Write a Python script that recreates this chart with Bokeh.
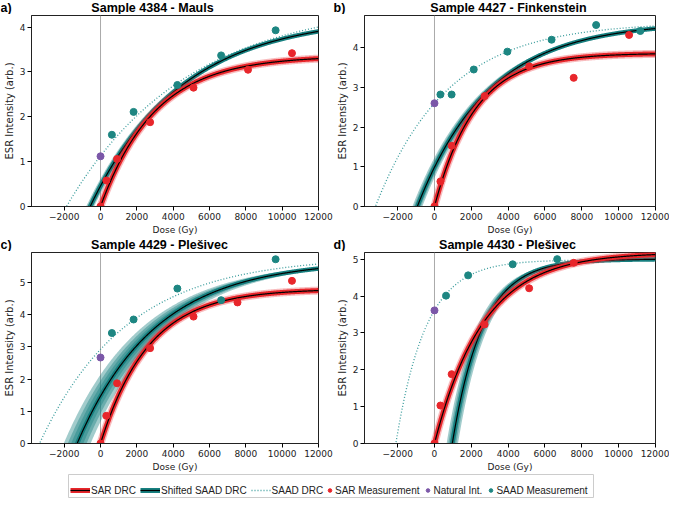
import numpy as np
from bokeh.plotting import figure
from bokeh.models import Range1d, FixedTicker, Span, Legend, LegendItem, Spacer
from bokeh.core.properties import value
from bokeh.layouts import column, row
from bokeh.embed import file_html
from bokeh.resources import INLINE

# --- data ------------------------------------------------------------------
panel_letters = ["a)", "b)", "c)", "d)"]
titles = ["Sample 4384 - Mauls", "Sample 4427 - Finkenstein",
          "Sample 4429 - Plešivec", "Sample 4430 - Plešivec"]
y_top = [4.26, 4.81, 5.93, 5.18]
y_ticks = [[0, 1, 2, 3, 4], [0, 1, 2, 3, 4], [0, 1, 2, 3, 4, 5], [0, 1, 2, 3, 4, 5]]
x_ticks = [-2000, 0, 2000, 4000, 6000, 8000, 10000, 12000]

sar_dose = [[0, 320, 910, 2730, 5120, 8120, 10540],
            [0, 322, 931, 2722, 5140, 7558, 10567],
            [0, 320, 910, 2730, 5120, 7540, 10540],
            [0, 322, 931, 2722, 5140, 7558]]
sar_int = [[0.0, 0.58, 1.06, 1.88, 2.65, 3.05, 3.42],
           [0.0, 0.63, 1.53, 2.78, 3.53, 3.24, 4.32],
           [0.0, 0.86, 1.87, 2.96, 3.94, 4.38, 5.05],
           [0.0, 1.03, 1.88, 3.23, 4.21, 4.90]]
saad_dose = [[625, 1820, 4230, 6640, 9640],
             [322, 931, 2131, 3958, 6358, 8777, 11177],
             [625, 1820, 4230, 6640, 9640],
             [627, 1827, 4245, 6663]]
saad_int = [[1.60, 2.11, 2.71, 3.37, 3.93],
            [2.82, 2.82, 3.45, 3.90, 4.20, 4.57, 4.42],
            [3.43, 3.85, 4.81, 4.45, 5.72],
            [4.01, 4.56, 4.86, 5.00]]
natural_int = [1.12, 2.60, 2.67, 3.61]

# fitted dose-response parameters (saturating exponential)
sar_imax = [3.36, 3.86, 4.80, 5.18]
sar_d0 = [3000, 2200, 2650, 2650]
shift_imax = [4.25, 4.65, 5.69, 5.00]
shift_d0 = [5000, 3900, 4300, 1650]
shift_de = [570, 931, 1286, -967]
shift_spread = [220, 270, 740, 310]
saad_imax = [4.56, 4.64, 5.81, 4.98]
saad_d0 = [6600, 3900, 4800, 1620]
saad_de = [1875, 3206, 3357, 2096]

RED = "#e8262b"
TEAL = "#178080"
TEAL_PT = "#1d8682"
DOT = "#3a9c9c"
PURPLE = "#7b57a8"
INK = "#222222"

dose_grid = np.linspace(-3800, 12000, 600)


def drc(d, imax, d0, de):
    return imax * (1 - np.exp(-(d + de) / d0))


def make_panel(i, width, left, right):
    p = figure(width=width, height=223, x_range=Range1d(-3800, 12000),
               y_range=Range1d(0, y_top[i]), toolbar_location=None,
               output_backend="svg", min_border_left=left, min_border_right=right,
               min_border_top=1, min_border_bottom=30)
    p.grid.visible = False
    p.outline_line_color = INK
    p.outline_line_alpha = 1

    p.xaxis.ticker = FixedTicker(ticks=x_ticks)
    p.xaxis.major_label_overrides = {-2000: "\u22122000"}
    p.yaxis.ticker = FixedTicker(ticks=y_ticks[i])
    p.xaxis.axis_label = "Dose (Gy)"
    p.yaxis.axis_label = "ESR Intensity (arb.)"
    for ax in (p.xaxis, p.yaxis):
        ax.major_label_text_font = "DejaVu Sans"
        ax.major_label_text_font_size = "9px"
        ax.major_label_text_color = INK
        ax.axis_label_text_font = "DejaVu Sans"
        ax.axis_label_text_font_style = "normal"
        ax.axis_label_text_color = INK
        ax.major_tick_out = 4
        ax.major_tick_in = 0
        ax.minor_tick_line_color = None
        ax.axis_line_color = INK
        ax.major_label_standoff = 2
        ax.axis_label_standoff = 2
    p.xaxis.axis_label_text_font_size = "9px"
    p.yaxis.axis_label_text_font_size = "10px"

    p.add_layout(Span(location=0, dimension="height", line_color="#aaaaaa",
                      line_width=1, level="underlay"))

    # SAAD DRC (dotted)
    p.line(dose_grid, drc(dose_grid, saad_imax[i], saad_d0[i], saad_de[i]),
           line_color=DOT, line_width=1.3, line_dash="1 2")

    # shifted SAAD DRC with uncertainty band
    for f in (1.0, 0.7, 0.45):
        lo = drc(dose_grid, shift_imax[i], shift_d0[i], shift_de[i] - f * shift_spread[i])
        hi = drc(dose_grid, shift_imax[i], shift_d0[i], shift_de[i] + f * shift_spread[i])
        p.varea(dose_grid, lo, hi, fill_color=TEAL, fill_alpha=0.4)
    shifted = drc(dose_grid, shift_imax[i], shift_d0[i], shift_de[i])
    p.line(dose_grid, shifted, line_color=TEAL, line_width=4.5)
    p.line(dose_grid, shifted, line_color="black", line_width=1.2)

    # SAR DRC
    sar_fit = drc(dose_grid, sar_imax[i], sar_d0[i], 0)
    p.line(dose_grid, sar_fit, line_color=RED, line_width=8, line_alpha=0.3)
    p.line(dose_grid, sar_fit, line_color=RED, line_width=5)
    p.line(dose_grid, sar_fit, line_color="black", line_width=1.2)

    p.scatter(sar_dose[i], sar_int[i], size=7, fill_color=RED, line_color=RED)
    p.scatter(saad_dose[i], saad_int[i], size=7, fill_color=TEAL_PT, line_color=TEAL_PT)
    p.scatter([0], [natural_int[i]], size=7, fill_color=PURPLE, line_color=PURPLE)
    return p


def make_title_strip(k0, k1, title_x, letter_x):
    # one row of panel letters and panel titles; x in page pixels
    s = figure(width=669, height=14, x_range=Range1d(0, 669), y_range=Range1d(0, 14),
               toolbar_location=None, output_backend="svg", min_border=0,
               x_axis_location=None, y_axis_location=None)
    s.grid.visible = False
    s.outline_line_color = None
    s.text(x=title_x, y=[7, 7], text=[titles[k0], titles[k1]],
           text_font=value("Liberation Sans"), text_font_size="12.5px",
           text_font_style="bold", text_align="center", text_baseline="middle",
           text_color="black")
    s.text(x=letter_x, y=[7, 7], text=[panel_letters[k0], panel_letters[k1]],
           text_font=value("Liberation Sans"), text_font_size="12.5px",
           text_font_style="bold", text_align="left", text_baseline="middle",
           text_color="black")
    return s


top_strip = make_title_strip(0, 1, [152, 508], [0, 333])
pa = make_panel(0, 333, 26, 15)
pb = make_panel(1, 336, 30, 14)
bottom_strip = make_title_strip(2, 3, [159, 507], [0, 333])
pc = make_panel(2, 333, 26, 15)
pd = make_panel(3, 336, 30, 14)

# legend strip: framed box holding a line legend and a marker legend
leg = figure(width=526, height=24, x_range=Range1d(0, 1), y_range=Range1d(0, 1),
             toolbar_location=None, output_backend="svg", min_border=0,
             x_axis_location=None, y_axis_location=None)
leg.grid.visible = False
leg.outline_line_color = "#cccccc"
nan = [np.nan]
r_sar = leg.line(nan, nan, line_color=RED, line_width=5)
r_sar_c = leg.line(nan, nan, line_color="black", line_width=1.2)
r_sh = leg.line(nan, nan, line_color=TEAL, line_width=5)
r_sh_c = leg.line(nan, nan, line_color="black", line_width=1.2)
r_dot = leg.line(nan, nan, line_color=DOT, line_width=1.3, line_dash="1 2")
r_sp = leg.scatter(nan, nan, size=8, fill_color=RED, line_color=RED)
r_np = leg.scatter(nan, nan, size=8, fill_color=PURPLE, line_color=PURPLE)
r_tp = leg.scatter(nan, nan, size=8, fill_color=TEAL_PT, line_color=TEAL_PT)

line_legend = Legend(items=[
    LegendItem(label="SAR DRC", renderers=[r_sar, r_sar_c]),
    LegendItem(label="Shifted SAAD DRC", renderers=[r_sh, r_sh_c]),
    LegendItem(label="SAAD DRC", renderers=[r_dot]),
], orientation="horizontal", location=(2, 2), glyph_width=20)
marker_legend = Legend(items=[
    LegendItem(label="SAR Measurement", renderers=[r_sp]),
    LegendItem(label="Natural Int.", renderers=[r_np]),
    LegendItem(label="SAAD Measurement", renderers=[r_tp]),
], orientation="horizontal", location=(257, 2), glyph_width=9)
for lg in (line_legend, marker_legend):
    lg.label_text_font = "Liberation Sans"
    lg.label_text_font_size = "10px"
    lg.label_text_color = INK
    lg.glyph_height = 12
    lg.label_height = 12
    lg.label_standoff = 1
    lg.spacing = 4
    lg.padding = 2
    lg.margin = 0
    lg.border_line_color = None
    lg.background_fill_alpha = 0
    leg.add_layout(lg, "center")

layout = column(top_strip, row(pa, pb), bottom_strip, row(pc, pd),
                row(Spacer(width=68, height=24), leg))
open("out.html", "w").write(file_html(layout, INLINE))
